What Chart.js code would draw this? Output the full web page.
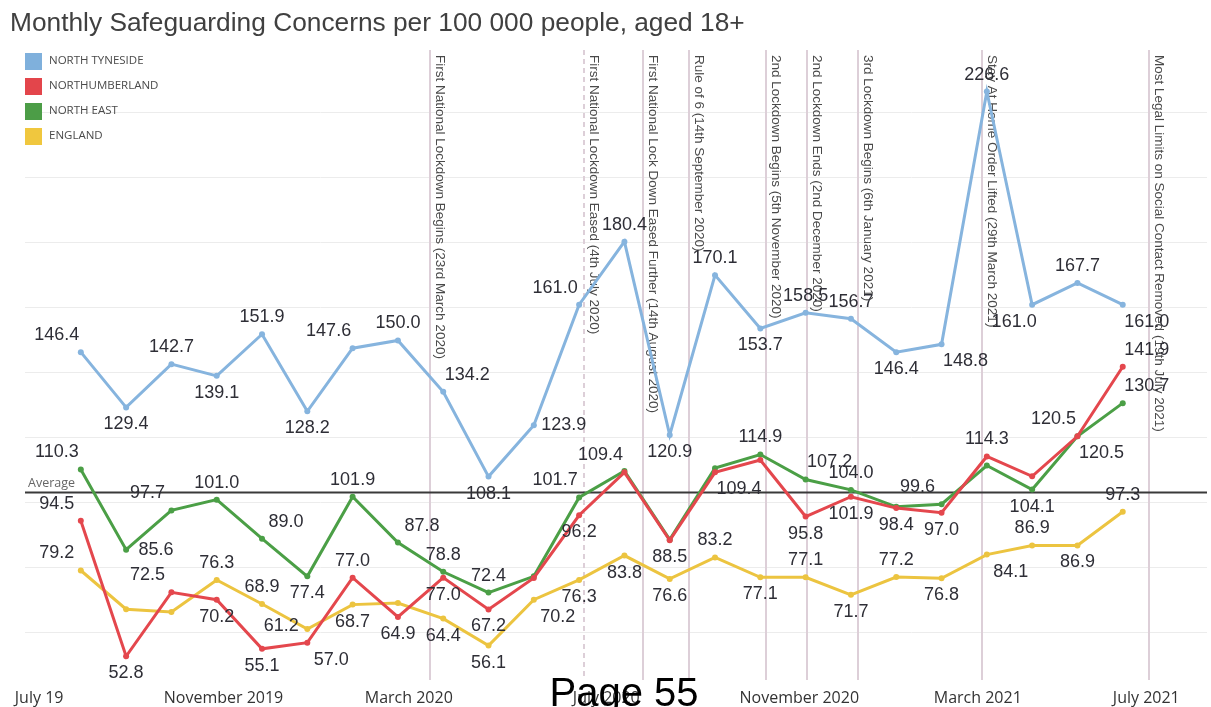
<!DOCTYPE html>
<html>
<head>
<meta charset="utf-8">
<title>Monthly Safeguarding Concerns</title>
<script src="https://cdn.jsdelivr.net/npm/chart.js@4.4.0/dist/chart.umd.min.js"></script>
<style>
  html, body { margin: 0; padding: 0; background: #fff; }
  #wrap { width: 1211px; height: 707px; }
</style>
</head>
<body>
<div id="wrap"><canvas id="chart" width="1211" height="707"></canvas></div>
<script>
// months plotted (first of month), Aug 2019 .. Jul 2021
const months = ['2019-08', '2019-09', '2019-10', '2019-11', '2019-12', '2020-01', '2020-02', '2020-03',
  '2020-04', '2020-05', '2020-06', '2020-07', '2020-08', '2020-09', '2020-10', '2020-11', '2020-12',
  '2021-01', '2021-02', '2021-03', '2021-04', '2021-05', '2021-06', '2021-07'];

const northTyneside = [146.4, 129.4, 142.7, 139.1, 151.9, 128.2, 147.6, 150.0, 134.2, 108.1, 123.9, 161.0,
  180.4, 120.9, 170.1, 153.7, 158.5, 156.7, 146.4, 148.8, 226.6, 161.0, 167.7, 161.0];
const northumberland = [94.5, 52.8, 72.5, 70.2, 55.1, 57.0, 77.0, 64.9, 77.0, 67.2, 76.9, 96.2,
  109.4, 88.5, 109.4, 113.2, 95.8, 101.9, 98.4, 97.0, 114.3, 108.2, 120.5, 141.9];
const northEast = [110.3, 85.6, 97.7, 101.0, 89.0, 77.4, 101.9, 87.8, 78.8, 72.4, 77.4, 101.7,
  109.8, 88.7, 110.7, 114.9, 107.2, 104.0, 98.8, 99.6, 111.5, 104.1, 120.5, 130.7];
const england = [79.2, 67.3, 66.4, 76.3, 68.9, 61.2, 68.7, 69.2, 64.4, 56.1, 70.2, 76.3,
  83.8, 76.6, 83.2, 77.1, 77.1, 71.7, 77.2, 76.8, 84.1, 86.9, 86.9, 97.3];

const averageValue = 103.4;

const tickLabels = ['July 19', 'November 2019', 'March 2020', 'July 2020', 'November 2020', 'March 2021', 'July 2021'];

const eventDates = ['2020-03-23', '2020-07-04', '2020-08-14', '2020-09-14', '2020-11-05', '2020-12-02',
  '2021-01-06', '2021-03-29', '2021-07-19'];
const eventLabels = [
  'First National Lockdown Begins (23rd March 2020)',
  'First National Lockdown Eased (4th July 2020)',
  'First National Lock Down Eased Further (14th August 2020)',
  'Rule of 6 (14th September 2020)',
  '2nd Lockdown Begins (5th November 2020)',
  '2nd Lockdown Ends (2nd December 2020)',
  '3rd Lockdown Begins (6th January 2021)',
  'Stay At Home Order Lifted (29th March 2021)',
  'Most Legal Limits on Social Contact Removed (19th July 2021)'
];

// months since 1 July 2019
function monthIndex(s) {
  const p = s.split('-').map(Number);
  const base = (p[0] - 2019) * 12 + (p[1] - 7);
  if (p.length < 3) return base;
  const days = new Date(p[0], p[1], 0).getDate();
  return base + (p[2] - 1) / days;
}

function toPoints(vals) {
  return vals.map((v, i) => ({ x: monthIndex(months[i]), y: v }));
}

// where each value label sits relative to its point ('' = not shown)
const labelSpots = [
  ['al','b','a','b','a','b','al','a','ar','b','r','al','a','b','a','b','a','a','b','br','a','bl','a','br'],
  ['al','b','al','b','b','br','a','b','b','b','','b','al','b','br','','b','b','b','b','a','','br','ar'],
  ['al','r','al','a','ar','b','a','ar','a','a','','al','','','','a','ar','a','','al','','b','al','ar'],
  ['al','','','a','a','l','b','','b','b','br','b','b','b','a','b','a','b','a','b','br','a','b','a']
];
const spotOffset = {
  a: [0, -17], b: [0, 17], al: [-24, -17], ar: [24, -17],
  bl: [-18, 17], br: [24, 17], l: [-26, -3], r: [30, 0]
};

const extras = {
  id: 'extras',
  beforeDatasetsDraw(chart) {
    const { ctx, chartArea, scales } = chart;
    ctx.save();
    // events
    eventDates.forEach((d, i) => {
      const x = Math.round(scales.x.getPixelForValue(monthIndex(d)));
      ctx.strokeStyle = '#ddcfd8';
      ctx.lineWidth = 2;
      ctx.setLineDash(i === 1 ? [5, 4] : []);
      ctx.beginPath();
      ctx.moveTo(x, chartArea.top + 2);
      ctx.lineTo(x, chartArea.bottom);
      ctx.stroke();
      ctx.setLineDash([]);
      ctx.save();
      ctx.translate(x + 3, chartArea.top + 7);
      ctx.rotate(Math.PI / 2);
      ctx.font = '13.5px "Liberation Sans", Arial, sans-serif';
      ctx.fillStyle = '#4a4a4a';
      ctx.textAlign = 'left';
      ctx.textBaseline = 'bottom';
      ctx.fillText(eventLabels[i], 0, 0);
      ctx.restore();
    });
    // average line
    const ya = Math.round(scales.y.getPixelForValue(averageValue)) + 0.5;
    ctx.strokeStyle = '#3a3a3a';
    ctx.lineWidth = 2;
    ctx.beginPath();
    ctx.moveTo(chartArea.left, ya);
    ctx.lineTo(chartArea.right, ya);
    ctx.stroke();
    ctx.font = '12.5px "Open Sans", sans-serif';
    ctx.fillStyle = '#666';
    ctx.textAlign = 'left';
    ctx.textBaseline = 'bottom';
    ctx.fillText('Average', chartArea.left + 3, ya - 3);
    ctx.restore();
  },
  afterDatasetsDraw(chart) {
    const { ctx } = chart;
    ctx.save();
    ctx.font = '18px "Liberation Sans", Arial, sans-serif';
    ctx.fillStyle = '#2e2e36';
    ctx.textAlign = 'center';
    ctx.textBaseline = 'middle';
    chart.data.datasets.forEach((ds, di) => {
      const meta = chart.getDatasetMeta(di);
      meta.data.forEach((pt, i) => {
        const spot = labelSpots[di][i];
        if (!spot) return;
        const off = spotOffset[spot];
        ctx.fillText(ds.data[i].y.toFixed(1), pt.x + off[0], pt.y + off[1]);
      });
    });
    ctx.restore();
  },
  afterDraw(chart) {
    const { ctx, chartArea } = chart;
    ctx.save();
    // title
    ctx.font = '26.3px "Liberation Sans", Arial, sans-serif';
    ctx.fillStyle = '#404040';
    ctx.textAlign = 'left';
    ctx.textBaseline = 'alphabetic';
    ctx.fillText('Monthly Safeguarding Concerns per 100 000 people, aged 18+', 10, 31);
    // legend
    ctx.font = '11.5px "Open Sans", sans-serif';
    ctx.textBaseline = 'middle';
    chart.data.datasets.forEach((ds, i) => {
      const y = 53 + i * 25;
      ctx.fillStyle = ds.legendColor;
      ctx.fillRect(chartArea.left, y, 17, 17);
      ctx.fillStyle = '#4a4a4a';
      ctx.fillText(ds.label, chartArea.left + 24, y + 8);
    });
    // page marker
    ctx.font = '40px "Liberation Sans", Arial, sans-serif';
    ctx.fillStyle = '#000';
    ctx.textAlign = 'center';
    ctx.textBaseline = 'alphabetic';
    ctx.fillText('Page 55', 624, 706);
    ctx.restore();
  }
};

function series(label, vals, color, legendColor) {
  return {
    label: label,
    data: toPoints(vals),
    borderColor: color,
    backgroundColor: color,
    legendColor: legendColor,
    borderWidth: 3,
    pointRadius: 3,
    pointBorderWidth: 0,
    tension: 0
  };
}

new Chart(document.getElementById('chart'), {
  type: 'line',
  data: {
    datasets: [
      series('NORTH TYNESIDE', northTyneside, '#86b4de', '#7fb0dc'),
      series('NORTHUMBERLAND', northumberland, '#e4474d', '#e3454b'),
      series('NORTH EAST', northEast, '#4b9f46', '#4c9d47'),
      series('ENGLAND', england, '#ecc440', '#f0c73e')
    ]
  },
  options: {
    responsive: false,
    animation: false,
    devicePixelRatio: 1,
    layout: { padding: { left: 25, top: 48, right: 0, bottom: 0 } },
    plugins: {
      legend: { display: false },
      title: { display: false },
      tooltip: { enabled: false }
    },
    scales: {
      x: {
        type: 'linear',
        min: -0.232,
        max: 25.86,
        grid: { display: false },
        border: { display: false },
        afterBuildTicks: (scale) => {
          // label anchors as placed in the original axis (months since July 2019)
          const at = [0.08, 4.15, 8.24, 12.6, 16.86, 20.8, 24.52];
          scale.ticks = at.map(v => ({ value: v }));
        },
        afterFit: (scale) => { scale.height = 27; },
        ticks: {
          autoSkip: false,
          maxRotation: 0,
          padding: 1,
          color: '#333',
          font: { family: '"Open Sans", sans-serif', size: 16 },
          callback: (v, i) => tickLabels[i]
        }
      },
      y: {
        min: 45.5,
        max: 240,
        border: { display: false },
        grid: { color: '#ececec', lineWidth: 1, drawTicks: false },
        afterBuildTicks: (scale) => {
          const t = [];
          for (let v = 60; v <= 220; v += 20) t.push({ value: v });
          scale.ticks = t;
        },
        afterFit: (scale) => { scale.width = 0; },
        ticks: { display: false }
      }
    }
  },
  plugins: [extras]
});
</script>
</body>
</html>
